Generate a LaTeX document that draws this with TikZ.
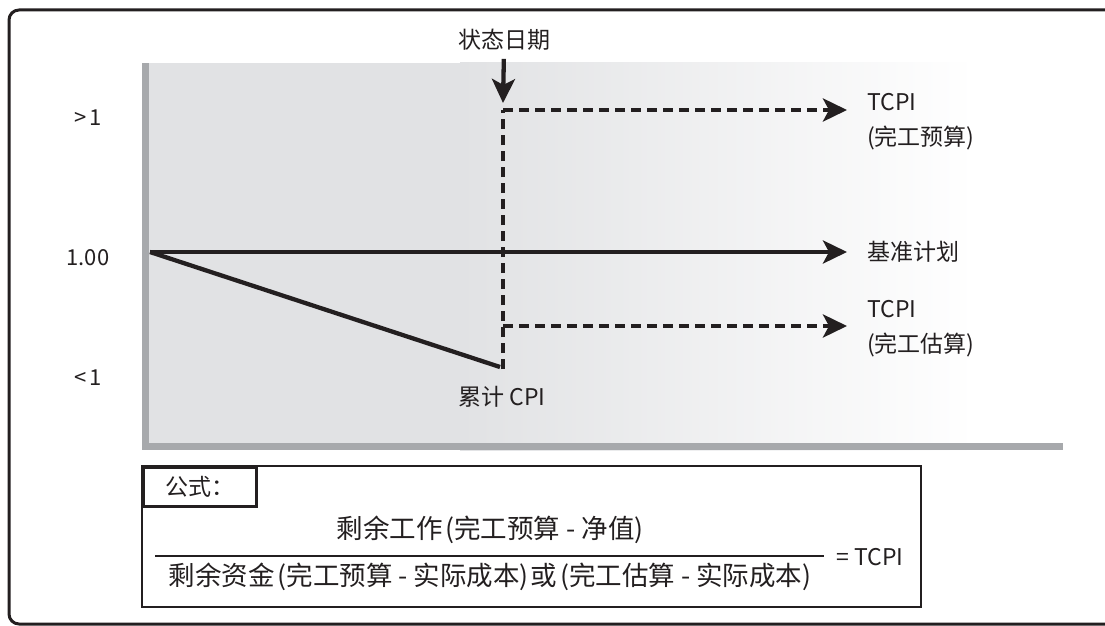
\documentclass[tikz,border=0pt]{standalone}
\usepackage{fontspec}
\setmainfont{Noto Sans CJK SC}
\usetikzlibrary{arrows.meta}
\definecolor{ink}{HTML}{231F20}
\definecolor{plotgray}{HTML}{E1E2E4}
\definecolor{axisgray}{HTML}{A7A9AC}

\begin{document}
\begin{tikzpicture}[x=1pt,y=-1pt,>={Stealth[length=24pt,width=23pt,inset=6pt]},
  every node/.style={font=\fontsize{23}{35}\selectfont,text=ink,inner sep=0pt},
  trend/.style={ink,line width=4.3pt},
  tcpi/.style={ink,line width=4.5pt,dash pattern=on 10pt off 6pt},
  axislbl/.style={font=\fontsize{22}{24}\selectfont},
  formtxt/.style={font=\fontsize{26.5}{30}\selectfont}]
\useasboundingbox (0,0) rectangle (1105,626);
\clip (0,0) rectangle (1105,626);
% frame
\draw[ink,line width=3pt,rounded corners=10pt] (9,10) rectangle (1130,624);
% plot area
\fill[plotgray] (142,63) rectangle (460,450);
\shade[left color=plotgray,right color=white] (460,63) rectangle (975,450);
\fill[axisgray] (142,63) rectangle (149,450);
\fill[axisgray] (142,443) rectangle (1063,450);
% axis labels
\node[axislbl] (gt) at (88,118) {>\kern3pt 1};
\node[axislbl] (one) at (88,258) {1.00};
\node[axislbl] (lt) at (88,378) {<\kern3pt 1};
% points
\coordinate (o) at (150,252);
\coordinate (baseend) at (847,252);
\coordinate (cpi) at (500,367);
\coordinate (sdtop) at (503,110);
\coordinate (sdbot) at (503,369);
\coordinate (hiend) at (847,110);
\coordinate (lostart) at (503,326);
\coordinate (loend) at (847,326);
\coordinate (sdtip) at (503,103);
% lines
\draw[trend,->] (o) -- (baseend);
\draw[trend] (o) -- (cpi);
\draw[tcpi] (sdbot) -- (sdtop);
\draw[tcpi,->] (sdtop) -- (hiend);
\draw[tcpi,->] (lostart) -- (loend);
% labels
\node (status) at (504,40) {状态日期};
\draw[trend,->,shorten <=8pt] (status.south) -- (sdtip);
\node[anchor=west,align=left] (tcpihi) at (867,122) {TCPI\\(完工预算)};
\node[anchor=west] (plan) at (867,252) {基准计划};
\node[anchor=west,align=left] (tcpilo) at (867,329) {TCPI\\(完工估算)};
\node (cumcpi) at (502,397) {累计 CPI};
% formula
\draw[ink,line width=2.6pt] (142,466) rectangle (921,607);
\node[draw=ink,line width=2.6pt,anchor=north west,minimum width=113pt,minimum height=39pt] (formula) at (142,466) {公式：};
\node[formtxt] (num) at (490,530) {剩余工作\kern3pt(完工预算 - 净值)};
\node[formtxt] (den) at (490,577) {剩余资金\kern3pt(完工预算 - 实际成本)\kern2pt 或\kern3pt(完工估算 - 实际成本)};
\coordinate (fracl) at (155,556);
\coordinate (fracr) at (824,556);
\draw[ink,line width=1.6pt] (fracl) -- (fracr);
\node (eq) at (870,557) {= TCPI};
\end{tikzpicture}
\end{document}
